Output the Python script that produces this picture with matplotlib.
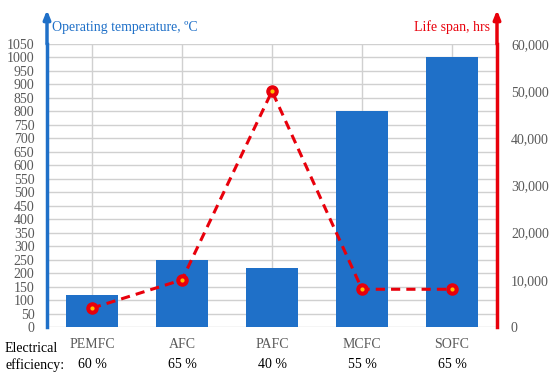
import matplotlib
matplotlib.use("Agg")
import matplotlib.pyplot as plt
import numpy as np

categories = ["PEMFC", "AFC", "PAFC", "MCFC", "SOFC"]
efficiency = ["60 %", "65 %", "40 %", "55 %", "65 %"]
temperature = [120, 250, 220, 800, 1000]
life_span = [4000, 10000, 50000, 8000, 8000]
left_ticks = list(range(0, 1051, 50))
right_ticks = list(range(0, 60001, 10000))

plt.rcParams['font.family'] = ['Liberation Serif', 'DejaVu Serif']

BLUE = "#1F70C8"
RED = "#E8000B"
GRAY = "#595959"
FS = 10

fig = plt.figure(figsize=(5.5, 3.79), dpi=100)
ax = fig.add_axes([47/550, 1-327/379, 450/550, 283/379])
x = np.arange(len(categories))
ax.bar(x, temperature, width=0.58, color=BLUE, zorder=3)
ax.set_xlim(-0.5, 4.5)
ax.set_ylim(0, 1050)
ax.set_yticks(left_ticks)
ax.set_yticklabels([str(v) for v in left_ticks], color=GRAY, fontsize=FS)
ax.set_xticks(x)
ax.set_xticklabels([])
ax.tick_params(axis='both', length=0)
ax.tick_params(axis='y', pad=9)
ax.grid(True, color="#D0D0D0", linewidth=1, zorder=0)
for s in ["top", "bottom", "right"]:
    ax.spines[s].set_visible(False)
ax.spines["left"].set_color(BLUE)
ax.spines["left"].set_linewidth(2.5)

ax2 = ax.twinx()
ax2.plot(x, life_span, color=RED, linestyle=(0, (3, 2)), linewidth=2.2,
         marker='o', markersize=8, markerfacecolor=RED, markeredgecolor=RED, zorder=5)
ax2.plot(x, life_span, linestyle='none', marker='o', markersize=2,
         color="#FFC000", zorder=6)
ax2.set_ylim(0, 60000)
ax2.set_yticks(right_ticks)
ax2.set_yticklabels([f"{v:,}" for v in right_ticks], color=GRAY, fontsize=FS)
ax2.tick_params(axis='y', length=0, pad=10)
for s in ["top", "bottom", "left"]:
    ax2.spines[s].set_visible(False)
ax2.spines["right"].set_color(RED)
ax2.spines["right"].set_linewidth(2.5)

# arrows extending spines
ax.annotate("", xy=(0, 1.13), xycoords="axes fraction", xytext=(0, 0.99),
            arrowprops=dict(arrowstyle="-|>,head_length=0.5,head_width=0.2", color=BLUE, lw=2.5))
ax.annotate("", xy=(1, 1.13), xycoords="axes fraction", xytext=(1, 0.99),
            arrowprops=dict(arrowstyle="-|>,head_length=0.5,head_width=0.2", color=RED, lw=2.5))

fig.text(52/550, 1-27/379, "Operating temperature, ºC", color=BLUE, fontsize=FS,
         ha="left", va="center")
fig.text(490/550, 1-27/379, "Life span, hrs", color=RED, fontsize=FS,
         ha="right", va="center")

for i, (c, e) in enumerate(zip(categories, efficiency)):
    ax.text(i, 1-345/379, c, transform=matplotlib.transforms.blended_transform_factory(ax.transData, fig.transFigure),
            ha="center", va="center", color=GRAY, fontsize=FS)
    ax.text(i, 1-364/379, e, transform=matplotlib.transforms.blended_transform_factory(ax.transData, fig.transFigure),
            ha="center", va="center", color="black", fontsize=FS)
fig.text(5/550, 1-349/379, "Electrical", ha="left", va="center", fontsize=FS)
fig.text(5/550, 1-365/379, "efficiency:", ha="left", va="center", fontsize=FS)

fig.savefig("out.png", dpi=100)
